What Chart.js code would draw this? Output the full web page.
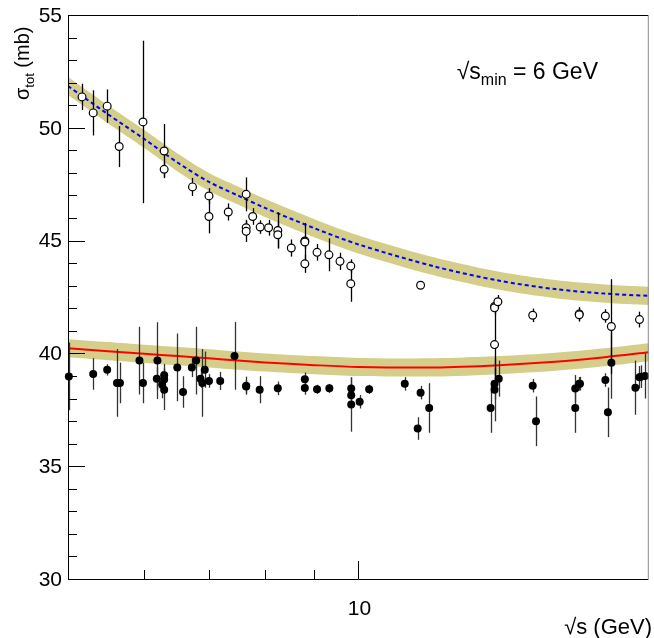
<!DOCTYPE html>
<html><head><meta charset="utf-8">
<script src="https://cdn.jsdelivr.net/npm/chart.js@4/dist/chart.umd.min.js"></script>
<style>html,body{margin:0;padding:0;background:#fff;} canvas{display:block;}</style>
</head><body>
<canvas id="c" width="654" height="638"></canvas>
<script>
// ---- data ----
const fitX      = [5, 5.5, 6, 6.5, 7, 7.5, 8, 9, 10, 12, 14, 16, 18, 20];
const upperFit  = [51.85, 50.6, 49.5, 48.45, 47.6, 47.0, 46.45, 45.55, 44.83, 43.85, 43.22, 42.85, 42.65, 42.55];
const lowerFit  = [40.23, 40.1, 39.98, 39.88, 39.78, 39.68, 39.6, 39.48, 39.4, 39.38, 39.48, 39.63, 39.83, 40.05];
const bandHalf  = 0.4;

const openX   = [5.17, 5.31, 5.49, 5.65, 5.98, 6.29, 6.29, 6.73, 7.00, 7.00, 7.33, 7.65, 7.77, 7.65, 7.65, 7.91, 8.07, 8.25, 8.25, 8.52, 8.80, 8.80, 8.80, 9.06, 9.32, 9.57, 9.82, 9.82, 11.6, 13.84, 13.84, 13.95, 13.84, 15.16, 16.94, 16.94, 18.03, 18.29, 19.56];
const openY   = [51.37, 50.66, 50.96, 49.17, 50.26, 48.97, 48.16, 47.38, 46.98, 46.07, 46.27, 47.05, 46.07, 45.57, 45.41, 45.6, 45.57, 45.45, 45.26, 44.67, 44.98, 44.94, 43.97, 44.48, 44.37, 44.08, 43.87, 43.09, 43.02, 42.08, 42.02, 42.29, 40.39, 41.69, 41.75, 41.71, 41.66, 41.19, 41.5];
const openErr = [0.58, 1.0, 0.74, 0.91, 3.6, 1.2, 0.35, 0.4, 0.35, 0.75, 0.38, 0.75, 0.37, 0.35, 0.47, 0.3, 0.35, 0.8, 0.6, 0.38, 0.8, 0.3, 0.4, 0.37, 0.73, 0.38, 0.3, 0.8, 0, 0.15, 0.3, 0.3, 1.8, 0.3, 0.3, 0.3, 0.3, 2.1, 0.35];

const fullX   = [5.01, 5.31, 5.49, 5.62, 5.66, 5.93, 5.98, 6.18, 6.19, 6.26, 6.29, 6.29, 6.29, 6.49, 6.58, 6.72, 6.79, 6.86, 6.89, 6.93, 7.00, 7.19, 7.44, 7.65, 7.65, 7.90, 8.25, 8.80, 8.80, 9.06, 9.33, 9.83, 9.83, 9.83, 10.03, 10.26, 11.17, 11.52, 11.6, 11.84, 13.71, 13.84, 13.84, 13.98, 15.16, 15.28, 16.78, 16.78, 16.94, 16.97, 18.03, 18.14, 18.29, 19.37, 19.56, 19.62, 19.82];
const fullY   = [38.98, 39.09, 39.27, 38.69, 38.69, 39.68, 38.69, 38.88, 39.68, 38.61, 39.03, 38.84, 38.39, 39.38, 38.29, 39.38, 39.68, 38.88, 38.69, 39.28, 38.78, 38.78, 39.89, 38.57, 38.53, 38.39, 38.45, 38.85, 38.47, 38.41, 38.45, 38.44, 38.14, 37.73, 37.86, 38.41, 38.65, 36.67, 38.26, 37.58, 37.58, 38.65, 38.39, 38.88, 38.57, 36.99, 38.44, 37.58, 38.65, 38.66, 38.82, 37.39, 39.59, 38.48, 38.94, 38.97, 39.0];
const fullErr = [1.5, 0.7, 0.25, 1.5, 0.9, 1.5, 0.9, 0.5, 1.7, 0.6, 0.5, 0.5, 0.9, 1.5, 0.7, 0.43, 1.5, 0.4, 1.5, 0.8, 0.3, 0.4, 1.5, 0.4, 0.3, 0.6, 0.3, 0.3, 0.3, 0.2, 0.2, 0.5, 0.5, 1.2, 0.3, 0.2, 0.3, 0.5, 0.3, 1.1, 1.1, 0.7, 1.4, 0.8, 0.3, 1.1, 0.6, 1.1, 0.3, 0.3, 0.3, 1.1, 1.6, 1.2, 0.5, 0.5, 1.0];

const yTicks      = [30, 35, 40, 45, 50, 55];
const xMinorTicks = [6, 7, 8, 9];
const xMajorTicks = [10];
const xRange = [5, 20];
const yRange = [30, 55];

// ---- styling ----
const FONT = '"Liberation Sans", Arial, sans-serif';
const BAND = 'rgb(212,206,138)';

const pts = (xs, ys) => xs.map((x, i) => ({x: x, y: ys[i]}));
const shift = (ys, d) => ys.map(v => v + d);

const errBars = {
  id: 'errBars',
  beforeDatasetDraw(chart, args) {
    if (args.index !== 6) return;
    const ctx = chart.ctx, xs = chart.scales.x, ys = chart.scales.y;
    ctx.save();
    ctx.lineWidth = 1.3;
    const draw = (X, Y, E, col) => {
      ctx.strokeStyle = col;
      X.forEach((x, i) => {
        if (!E[i]) return;
        const px = Math.round(xs.getPixelForValue(x)) + 0.5;
        ctx.beginPath();
        ctx.moveTo(px, ys.getPixelForValue(Y[i] + E[i]));
        ctx.lineTo(px, ys.getPixelForValue(Y[i] - E[i]));
        ctx.stroke();
      });
    };
    draw(fullX, fullY, fullErr, '#333');
    draw(openX, openY, openErr, '#000');
    ctx.restore();
  }
};

const axes = {
  id: 'axes',
  afterDraw(chart) {
    const ctx = chart.ctx, xs = chart.scales.x, ys = chart.scales.y, a = chart.chartArea;
    ctx.save();
    ctx.lineWidth = 1;
    // frame
    ctx.strokeStyle = '#000';
    ctx.beginPath();
    ctx.moveTo(a.right - 0.5, a.top + 0.5);
    ctx.lineTo(a.left + 0.5, a.top + 0.5);
    ctx.lineTo(a.left + 0.5, a.bottom + 0.5);
    ctx.lineTo(a.right - 0.5, a.bottom + 0.5);
    ctx.stroke();
    ctx.strokeStyle = '#888';
    ctx.beginPath();
    ctx.moveTo(a.right - 0.5, a.top + 0.5);
    ctx.lineTo(a.right - 0.5, a.bottom + 0.5);
    ctx.stroke();
    ctx.strokeStyle = '#000';
    // y ticks
    for (let v = yRange[0]; v <= yRange[1]; v++) {
      const py = Math.round(ys.getPixelForValue(v)) + 0.5;
      const len = (v % 5 === 0) ? 17 : 9;
      ctx.beginPath(); ctx.moveTo(a.left, py); ctx.lineTo(a.left + len, py); ctx.stroke();
    }
    // x ticks
    const bottom = a.bottom;
    xMinorTicks.forEach(v => {
      const px = Math.round(xs.getPixelForValue(v)) + 0.5;
      ctx.beginPath(); ctx.moveTo(px, bottom); ctx.lineTo(px, bottom - 9); ctx.stroke();
    });
    xMajorTicks.forEach(v => {
      const px = Math.round(xs.getPixelForValue(v)) + 0.5;
      ctx.beginPath(); ctx.moveTo(px, bottom); ctx.lineTo(px, bottom - 18); ctx.stroke();
    });
    // labels
    ctx.fillStyle = '#000';
    ctx.font = '21px ' + FONT;
    ctx.textAlign = 'right'; ctx.textBaseline = 'middle';
    yTicks.forEach(v => ctx.fillText(String(v), a.left - 6, ys.getPixelForValue(v) + 1));
    ctx.textAlign = 'center'; ctx.textBaseline = 'alphabetic';
    xMajorTicks.forEach(v => ctx.fillText(String(v), xs.getPixelForValue(v) + 1, 615));

    // x title
    ctx.textAlign = 'left';
    ctx.font = '22px ' + FONT;
    const xt = '√s (GeV)';
    const w = ctx.measureText(xt).width;
    ctx.fillText(xt, 652 - w, 634);

    // y title (rotated)
    ctx.save();
    ctx.translate(29, 100);
    ctx.rotate(-Math.PI / 2);
    ctx.textAlign = 'left';
    ctx.font = '20px ' + FONT;
    ctx.fillText('σ', 0, 0);
    let off = ctx.measureText('σ').width;
    ctx.font = '13px ' + FONT;
    ctx.fillText('tot', off, 5);
    off += ctx.measureText('tot').width;
    ctx.font = '20px ' + FONT;
    ctx.fillText(' (mb)', off, 0);
    ctx.restore();

    // annotation (right edge at x=598)
    const big = '23px ' + FONT, small = '16px ' + FONT;
    ctx.font = big;  const w1 = ctx.measureText('√s').width, w3 = ctx.measureText(' = 6 GeV').width;
    ctx.font = small; const w2 = ctx.measureText('min').width;
    let x0 = 598 - (w1 + w2 + w3);
    ctx.font = big;  ctx.fillText('√s', x0, 79); x0 += w1;
    ctx.font = small; ctx.fillText('min', x0, 85); x0 += w2;
    ctx.font = big;  ctx.fillText(' = 6 GeV', x0, 79);
    ctx.restore();
  }
};

new Chart(document.getElementById('c'), {
  type: 'scatter',
  data: {
    datasets: [
      {data: pts(fitX, shift(upperFit, bandHalf)), showLine: true, borderWidth: 0, pointRadius: 0, backgroundColor: BAND, fill: 1, order: 10, tension: 0.3},
      {data: pts(fitX, shift(upperFit, -bandHalf)), showLine: true, borderWidth: 0, pointRadius: 0, fill: false, order: 10, tension: 0.3},
      {data: pts(fitX, shift(lowerFit, bandHalf)), showLine: true, borderWidth: 0, pointRadius: 0, backgroundColor: BAND, fill: 3, order: 10, tension: 0.3},
      {data: pts(fitX, shift(lowerFit, -bandHalf)), showLine: true, borderWidth: 0, pointRadius: 0, fill: false, order: 10, tension: 0.3},
      {data: pts(fitX, upperFit), showLine: true, borderColor: '#0000ff', borderWidth: 2, borderDash: [4, 3], pointRadius: 0, fill: false, order: 5, tension: 0.3},
      {data: pts(fitX, lowerFit), showLine: true, borderColor: '#ff0000', borderWidth: 2, pointRadius: 0, fill: false, order: 5, tension: 0.3},
      {data: pts(openX, openY), pointRadius: 3.9, pointBorderWidth: 1.2, pointBorderColor: '#000', pointBackgroundColor: '#fff', order: 2, clip: false},
      {data: pts(fullX, fullY), pointRadius: 4, pointBorderWidth: 0, pointBackgroundColor: '#000', pointBorderColor: '#000', order: 1, clip: false}
    ]
  },
  options: {
    responsive: false,
    animation: false,
    devicePixelRatio: 1,
    layout: {padding: {left: 68, right: 1, top: 15, bottom: 59}},
    plugins: {legend: {display: false}, tooltip: {enabled: false}},
    scales: {
      x: {type: 'logarithmic', min: xRange[0], max: xRange[1], display: false},
      y: {type: 'linear', min: yRange[0], max: yRange[1], display: false}
    }
  },
  plugins: [errBars, axes]
});
</script>
</body></html>
